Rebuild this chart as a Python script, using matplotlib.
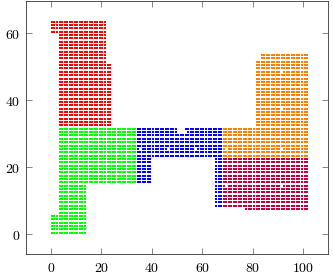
import numpy as np
import matplotlib
matplotlib.use("Agg")
import matplotlib.pyplot as plt
from matplotlib.ticker import FixedLocator, FuncFormatter

plt.rcParams['mathtext.fontset'] = 'cm'

# Grid-cell clusters: rectangles (col_start, col_end, row_start, row_end), inclusive
red_blocks = [(0, 21, 60, 63), (3, 21, 51, 59), (3, 23, 32, 50)]
green_blocks = [(0, 13, 0, 5), (3, 13, 6, 14), (3, 33, 15, 31)]
blue_blocks = [(34, 67, 23, 31), (34, 39, 15, 22), (65, 67, 8, 22)]
orange_blocks = [(68, 101, 23, 31), (81, 101, 32, 51), (83, 101, 52, 53)]
purple_blocks = [(68, 101, 8, 22), (77, 101, 7, 7)]

# Missing cells (col, row)
holes = [(50, 31), (51, 31), (52, 31), (50, 30), (51, 30), (52, 30), (53, 30),
         (35, 25), (46, 25), (57, 25), (69, 25), (91, 25),
         (69, 14), (91, 14), (91, 37), (91, 48)]

cluster_colors = ['#ff0000', '#00ff00', '#0000ff', '#ff8000', '#bf0040']
cluster_blocks = [red_blocks, green_blocks, blue_blocks, orange_blocks, purple_blocks]

x_ticks = [0, 20, 40, 60, 80, 100]
y_ticks = [0, 20, 40, 60]


def cells(blocks):
    pts = []
    hs = set(holes)
    for c0, c1, r0, r1 in blocks:
        for c in range(c0, c1 + 1):
            for r in range(r0, r1 + 1):
                if (c, r) not in hs:
                    pts.append((c + 0.5, r + 0.5))
    return np.array(pts)


fig = plt.figure(figsize=(3.33, 2.75), dpi=100)
ax = fig.add_axes([26 / 333, 1 - 254.3 / 275, (328 - 26) / 333, (254.3 - 1) / 275])

for blocks, col in zip(cluster_blocks, cluster_colors):
    p = cells(blocks)
    ax.plot(p[:, 0], p[:, 1], linestyle='none', marker='s', markersize=1.7,
            markeredgewidth=0, color=col)

ax.set_xlim(-9.78, 109.8)
ax.set_ylim(-5.97, 69.64)
ax.xaxis.set_major_locator(FixedLocator(x_ticks))
ax.yaxis.set_major_locator(FixedLocator(y_ticks))
fmt = FuncFormatter(lambda v, pos: r'$%d$' % v)
ax.xaxis.set_major_formatter(fmt)
ax.yaxis.set_major_formatter(fmt)
ax.tick_params(direction='in', top=True, right=True, length=4.3, width=0.5,
               color='#555555', labelsize=10)
ax.tick_params(axis='x', pad=4.5)
ax.tick_params(axis='y', pad=3.8)
for s in ax.spines.values():
    s.set_linewidth(0.6)
    s.set_color('#333333')

fig.savefig('out.png', dpi=100)
